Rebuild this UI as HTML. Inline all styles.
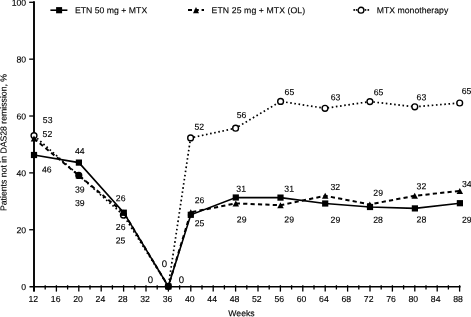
<!DOCTYPE html><html><head><meta charset="utf-8"><title>Chart</title><style>html,body{margin:0;padding:0;background:#fff;}svg{display:block;will-change:transform;}text{font-family:"Liberation Sans", sans-serif;font-size:8.7px;fill:#000;stroke:#000;stroke-width:0.12px;}</style></head><body>
<svg width="471" height="317" viewBox="0 0 471 317">
<rect width="471" height="317" fill="#fff"/>
<g stroke="#000" fill="none">
<line x1="34" y1="1.3" x2="34" y2="291.6" stroke-width="1.9"/>
<line x1="29.5" y1="286.8" x2="460.6" y2="286.8" stroke-width="1.45"/>
<line x1="29.2" y1="2.30" x2="34" y2="2.30" stroke-width="1.3"/>
<line x1="29.2" y1="59.16" x2="34" y2="59.16" stroke-width="1.3"/>
<line x1="29.2" y1="116.02" x2="34" y2="116.02" stroke-width="1.3"/>
<line x1="29.2" y1="172.88" x2="34" y2="172.88" stroke-width="1.3"/>
<line x1="29.2" y1="229.74" x2="34" y2="229.74" stroke-width="1.3"/>
<line x1="34.00" y1="285.2" x2="34.00" y2="291.6" stroke-width="1.3"/>
<line x1="45.20" y1="285.2" x2="45.20" y2="289.5" stroke-width="1.3"/>
<line x1="56.40" y1="285.2" x2="56.40" y2="291.6" stroke-width="1.3"/>
<line x1="67.60" y1="285.2" x2="67.60" y2="289.5" stroke-width="1.3"/>
<line x1="78.80" y1="285.2" x2="78.80" y2="291.6" stroke-width="1.3"/>
<line x1="90.00" y1="285.2" x2="90.00" y2="289.5" stroke-width="1.3"/>
<line x1="101.20" y1="285.2" x2="101.20" y2="291.6" stroke-width="1.3"/>
<line x1="112.40" y1="285.2" x2="112.40" y2="289.5" stroke-width="1.3"/>
<line x1="123.60" y1="285.2" x2="123.60" y2="291.6" stroke-width="1.3"/>
<line x1="134.80" y1="285.2" x2="134.80" y2="289.5" stroke-width="1.3"/>
<line x1="146.00" y1="285.2" x2="146.00" y2="291.6" stroke-width="1.3"/>
<line x1="157.20" y1="285.2" x2="157.20" y2="289.5" stroke-width="1.3"/>
<line x1="168.40" y1="285.2" x2="168.40" y2="291.6" stroke-width="1.3"/>
<line x1="179.60" y1="285.2" x2="179.60" y2="289.5" stroke-width="1.3"/>
<line x1="190.80" y1="285.2" x2="190.80" y2="291.6" stroke-width="1.3"/>
<line x1="202.00" y1="285.2" x2="202.00" y2="289.5" stroke-width="1.3"/>
<line x1="213.20" y1="285.2" x2="213.20" y2="291.6" stroke-width="1.3"/>
<line x1="224.40" y1="285.2" x2="224.40" y2="289.5" stroke-width="1.3"/>
<line x1="235.60" y1="285.2" x2="235.60" y2="291.6" stroke-width="1.3"/>
<line x1="246.80" y1="285.2" x2="246.80" y2="289.5" stroke-width="1.3"/>
<line x1="258.00" y1="285.2" x2="258.00" y2="291.6" stroke-width="1.3"/>
<line x1="269.20" y1="285.2" x2="269.20" y2="289.5" stroke-width="1.3"/>
<line x1="280.40" y1="285.2" x2="280.40" y2="291.6" stroke-width="1.3"/>
<line x1="291.60" y1="285.2" x2="291.60" y2="289.5" stroke-width="1.3"/>
<line x1="302.80" y1="285.2" x2="302.80" y2="291.6" stroke-width="1.3"/>
<line x1="314.00" y1="285.2" x2="314.00" y2="289.5" stroke-width="1.3"/>
<line x1="325.20" y1="285.2" x2="325.20" y2="291.6" stroke-width="1.3"/>
<line x1="336.40" y1="285.2" x2="336.40" y2="289.5" stroke-width="1.3"/>
<line x1="347.60" y1="285.2" x2="347.60" y2="291.6" stroke-width="1.3"/>
<line x1="358.80" y1="285.2" x2="358.80" y2="289.5" stroke-width="1.3"/>
<line x1="370.00" y1="285.2" x2="370.00" y2="291.6" stroke-width="1.3"/>
<line x1="381.20" y1="285.2" x2="381.20" y2="289.5" stroke-width="1.3"/>
<line x1="392.40" y1="285.2" x2="392.40" y2="291.6" stroke-width="1.3"/>
<line x1="403.60" y1="285.2" x2="403.60" y2="289.5" stroke-width="1.3"/>
<line x1="414.80" y1="285.2" x2="414.80" y2="291.6" stroke-width="1.3"/>
<line x1="426.00" y1="285.2" x2="426.00" y2="289.5" stroke-width="1.3"/>
<line x1="437.20" y1="285.2" x2="437.20" y2="291.6" stroke-width="1.3"/>
<line x1="448.40" y1="285.2" x2="448.40" y2="289.5" stroke-width="1.3"/>
<line x1="459.60" y1="285.2" x2="459.60" y2="291.6" stroke-width="1.3"/>
</g>
<text transform="translate(26.20,5.70) rotate(0.05)" text-anchor="end">100</text>
<text transform="translate(26.20,62.56) rotate(0.05)" text-anchor="end">80</text>
<text transform="translate(26.20,119.42) rotate(0.05)" text-anchor="end">60</text>
<text transform="translate(26.20,176.28) rotate(0.05)" text-anchor="end">40</text>
<text transform="translate(26.20,233.14) rotate(0.05)" text-anchor="end">20</text>
<text transform="translate(26.20,290.00) rotate(0.05)" text-anchor="end">0</text>
<text transform="translate(33.35,301.90) rotate(0.05)" text-anchor="middle">12</text>
<text transform="translate(55.70,301.90) rotate(0.05)" text-anchor="middle">16</text>
<text transform="translate(78.05,301.90) rotate(0.05)" text-anchor="middle">20</text>
<text transform="translate(100.41,301.90) rotate(0.05)" text-anchor="middle">24</text>
<text transform="translate(122.76,301.90) rotate(0.05)" text-anchor="middle">28</text>
<text transform="translate(145.11,301.90) rotate(0.05)" text-anchor="middle">32</text>
<text transform="translate(167.46,301.90) rotate(0.05)" text-anchor="middle">36</text>
<text transform="translate(189.81,301.90) rotate(0.05)" text-anchor="middle">40</text>
<text transform="translate(212.17,301.90) rotate(0.05)" text-anchor="middle">44</text>
<text transform="translate(234.52,301.90) rotate(0.05)" text-anchor="middle">48</text>
<text transform="translate(256.87,301.90) rotate(0.05)" text-anchor="middle">52</text>
<text transform="translate(279.22,301.90) rotate(0.05)" text-anchor="middle">56</text>
<text transform="translate(301.57,301.90) rotate(0.05)" text-anchor="middle">60</text>
<text transform="translate(323.93,301.90) rotate(0.05)" text-anchor="middle">64</text>
<text transform="translate(346.28,301.90) rotate(0.05)" text-anchor="middle">68</text>
<text transform="translate(368.63,301.90) rotate(0.05)" text-anchor="middle">72</text>
<text transform="translate(390.98,301.90) rotate(0.05)" text-anchor="middle">76</text>
<text transform="translate(413.33,301.90) rotate(0.05)" text-anchor="middle">80</text>
<text transform="translate(435.69,301.90) rotate(0.05)" text-anchor="middle">84</text>
<text transform="translate(458.04,301.90) rotate(0.05)" text-anchor="middle">88</text>
<text transform="translate(241.50,316.30) rotate(0.05)" text-anchor="middle">Weeks</text>
<text transform="translate(6.5,142.5) rotate(-89.95)" text-anchor="middle">Patients not in DAS28 remission, %</text>
<polyline points="34.00,135.60 78.80,175.40 123.40,215.10 168.30,286.30 190.60,137.90 235.60,128.20 280.60,101.40 325.00,108.30 369.90,101.60 414.80,106.80 459.70,103.00" fill="none" stroke="#000" stroke-width="1.7" stroke-dasharray="1.6 2.6"/>
<circle cx="34.00" cy="135.60" r="2.9" fill="#fff" stroke="#000" stroke-width="1.4"/>
<circle cx="78.80" cy="175.40" r="2.9" fill="#000" stroke="#000" stroke-width="1.4"/>
<circle cx="123.40" cy="215.10" r="2.9" fill="#fff" stroke="#000" stroke-width="1.4"/>
<circle cx="168.30" cy="286.30" r="2.9" fill="#fff" stroke="#000" stroke-width="1.4"/>
<circle cx="190.60" cy="137.90" r="2.9" fill="#fff" stroke="#000" stroke-width="1.4"/>
<circle cx="235.60" cy="128.20" r="2.9" fill="#fff" stroke="#000" stroke-width="1.4"/>
<circle cx="280.60" cy="101.40" r="2.9" fill="#fff" stroke="#000" stroke-width="1.4"/>
<circle cx="325.00" cy="108.30" r="2.9" fill="#fff" stroke="#000" stroke-width="1.4"/>
<circle cx="369.90" cy="101.60" r="2.9" fill="#fff" stroke="#000" stroke-width="1.4"/>
<circle cx="414.80" cy="106.80" r="2.9" fill="#fff" stroke="#000" stroke-width="1.4"/>
<circle cx="459.70" cy="103.00" r="2.9" fill="#fff" stroke="#000" stroke-width="1.4"/>
<polyline points="34.00,138.60 78.80,175.40 123.60,212.50 168.30,286.30 190.80,212.30 235.80,203.40 280.50,205.20 325.20,195.80 369.80,204.40 414.70,195.80 459.80,190.90" fill="none" stroke="#000" stroke-width="2" stroke-dasharray="4.2 3.2"/>
<path d="M30.75,141.60 L34.00,135.60 L37.25,141.60 Z" fill="#000"/>
<path d="M75.55,178.40 L78.80,172.40 L82.05,178.40 Z" fill="#000"/>
<path d="M120.35,215.50 L123.60,209.50 L126.85,215.50 Z" fill="#000"/>
<path d="M165.05,289.30 L168.30,283.30 L171.55,289.30 Z" fill="#000"/>
<path d="M187.55,215.30 L190.80,209.30 L194.05,215.30 Z" fill="#000"/>
<path d="M232.55,206.40 L235.80,200.40 L239.05,206.40 Z" fill="#000"/>
<path d="M277.25,208.20 L280.50,202.20 L283.75,208.20 Z" fill="#000"/>
<path d="M321.95,198.80 L325.20,192.80 L328.45,198.80 Z" fill="#000"/>
<path d="M366.55,207.40 L369.80,201.40 L373.05,207.40 Z" fill="#000"/>
<path d="M411.45,198.80 L414.70,192.80 L417.95,198.80 Z" fill="#000"/>
<path d="M456.55,193.90 L459.80,187.90 L463.05,193.90 Z" fill="#000"/>
<polyline points="34.00,155.00 78.90,162.60 123.80,212.70 168.30,286.30 190.80,214.80 235.80,197.50 280.50,197.60 325.20,203.50 370.00,207.00 414.90,208.40 459.90,203.20" fill="none" stroke="#000" stroke-width="1.6"/>
<rect x="30.90" y="151.90" width="6.2" height="6.2" fill="#000"/>
<rect x="75.80" y="159.50" width="6.2" height="6.2" fill="#000"/>
<rect x="120.70" y="209.60" width="6.2" height="6.2" fill="#000"/>
<rect x="165.20" y="283.20" width="6.2" height="6.2" fill="#000"/>
<rect x="187.70" y="211.70" width="6.2" height="6.2" fill="#000"/>
<rect x="232.70" y="194.40" width="6.2" height="6.2" fill="#000"/>
<rect x="277.40" y="194.50" width="6.2" height="6.2" fill="#000"/>
<rect x="322.10" y="200.40" width="6.2" height="6.2" fill="#000"/>
<rect x="366.90" y="203.90" width="6.2" height="6.2" fill="#000"/>
<rect x="411.80" y="205.30" width="6.2" height="6.2" fill="#000"/>
<rect x="456.80" y="200.10" width="6.2" height="6.2" fill="#000"/>
<text transform="translate(47.65,123.01) rotate(0.05)" text-anchor="middle">53</text>
<text transform="translate(79.85,192.51) rotate(0.05)" text-anchor="middle">39</text>
<text transform="translate(120.50,243.41) rotate(0.05)" text-anchor="middle">25</text>
<text transform="translate(164.45,266.89) rotate(0.05)" text-anchor="middle" style="font-size:9.6px">0</text>
<text transform="translate(199.25,129.86) rotate(0.05)" text-anchor="middle">52</text>
<text transform="translate(241.55,117.91) rotate(0.05)" text-anchor="middle">56</text>
<text transform="translate(289.40,94.91) rotate(0.05)" text-anchor="middle">65</text>
<text transform="translate(335.50,100.26) rotate(0.05)" text-anchor="middle">63</text>
<text transform="translate(378.50,95.36) rotate(0.05)" text-anchor="middle">65</text>
<text transform="translate(421.40,100.26) rotate(0.05)" text-anchor="middle">63</text>
<text transform="translate(466.50,94.06) rotate(0.05)" text-anchor="middle">65</text>
<text transform="translate(47.45,137.11) rotate(0.05)" text-anchor="middle">52</text>
<text transform="translate(79.85,206.11) rotate(0.05)" text-anchor="middle">39</text>
<text transform="translate(120.65,230.01) rotate(0.05)" text-anchor="middle">26</text>
<text transform="translate(181.50,283.04) rotate(0.05)" text-anchor="middle" style="font-size:9.6px">0</text>
<text transform="translate(199.50,203.21) rotate(0.05)" text-anchor="middle">26</text>
<text transform="translate(241.65,222.61) rotate(0.05)" text-anchor="middle">29</text>
<text transform="translate(289.15,222.61) rotate(0.05)" text-anchor="middle">29</text>
<text transform="translate(335.30,189.91) rotate(0.05)" text-anchor="middle">32</text>
<text transform="translate(378.15,195.71) rotate(0.05)" text-anchor="middle">29</text>
<text transform="translate(421.40,189.31) rotate(0.05)" text-anchor="middle">32</text>
<text transform="translate(466.80,187.01) rotate(0.05)" text-anchor="middle">34</text>
<text transform="translate(46.85,172.46) rotate(0.05)" text-anchor="middle">46</text>
<text transform="translate(79.85,154.11) rotate(0.05)" text-anchor="middle">44</text>
<text transform="translate(120.65,201.21) rotate(0.05)" text-anchor="middle">26</text>
<text transform="translate(150.40,283.04) rotate(0.05)" text-anchor="middle" style="font-size:9.6px">0</text>
<text transform="translate(199.50,226.16) rotate(0.05)" text-anchor="middle">25</text>
<text transform="translate(241.15,191.71) rotate(0.05)" text-anchor="middle">31</text>
<text transform="translate(289.20,191.71) rotate(0.05)" text-anchor="middle">31</text>
<text transform="translate(335.45,222.81) rotate(0.05)" text-anchor="middle">29</text>
<text transform="translate(378.00,222.81) rotate(0.05)" text-anchor="middle">28</text>
<text transform="translate(421.40,222.41) rotate(0.05)" text-anchor="middle">28</text>
<text transform="translate(466.80,222.81) rotate(0.05)" text-anchor="middle">29</text>
<line x1="50.4" y1="10.2" x2="67.4" y2="10.2" stroke="#000" stroke-width="1.6"/>
<rect x="56.1" y="7.1" width="6" height="6.2" fill="#000"/>
<text transform="translate(75.00,13.30) rotate(0.05)">ETN 50 mg + MTX</text>
<line x1="188" y1="10" x2="204" y2="10" stroke="#000" stroke-width="1.9" stroke-dasharray="4 2.8"/>
<path d="M193.00,13.35 L196.00,7.05 L199.00,13.35 Z" fill="#000"/>
<text transform="translate(211.60,13.30) rotate(0.05)" textLength="93.6" lengthAdjust="spacing">ETN 25 mg + MTX (OL)</text>
<rect x="353.40" y="9.1" width="1.6" height="1.7" fill="#000"/>
<rect x="355.80" y="9.1" width="1.6" height="1.7" fill="#000"/>
<rect x="364.70" y="9.1" width="1.6" height="1.7" fill="#000"/>
<rect x="367.50" y="9.1" width="1.6" height="1.7" fill="#000"/>
<circle cx="361" cy="10.2" r="2.9" fill="#fff" stroke="#000" stroke-width="1.4"/>
<text transform="translate(376.80,13.30) rotate(0.05)">MTX monotherapy</text>
</svg></body></html>
